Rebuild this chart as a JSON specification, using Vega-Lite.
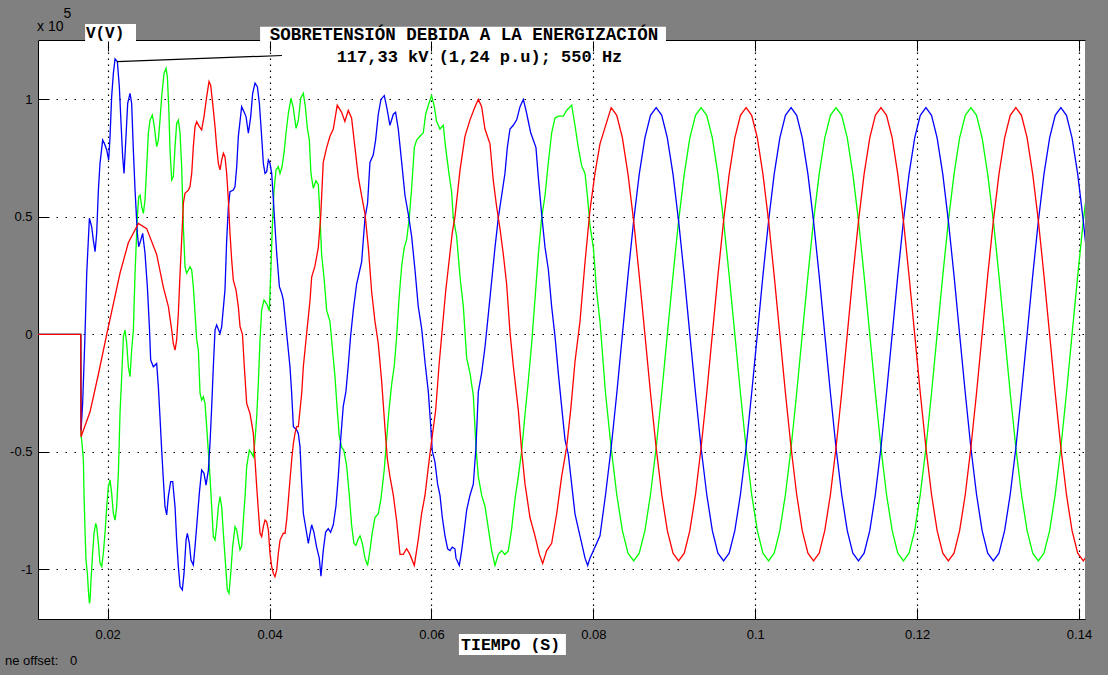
{
"$schema": "https://vega.github.io/schema/vega-lite/v6.json",
"width": 1047, "height": 579,
"autosize": {"type": "none"},
"padding": {"left": 38, "top": 40, "right": 23, "bottom": 56},
"background": "#808080",
"config": {"view": {"stroke": null, "fill": "#ffffff"}, "font": "Liberation Sans"},
"datasets": {
"red": [
{"t":0.0114,"v":0},{"t":0.01667,"v":0},{"t":0.01671,"v":-0.436},{"t":0.01782,"v":-0.33},{"t":0.01885,"v":-0.17},{"t":0.01988,"v":0},{"t":0.0207,"v":0.13},{"t":0.02152,"v":0.26},{"t":0.02255,"v":0.39},{"t":0.02379,"v":0.472},{"t":0.02482,"v":0.45},{"t":0.02605,"v":0.34},{"t":0.02688,"v":0.2},{"t":0.0275,"v":0.118},{"t":0.02791,"v":0.018},{"t":0.02811,"v":-0.04},{"t":0.02832,"v":-0.067},{"t":0.02852,"v":-0.024},{"t":0.02873,"v":0.089},{"t":0.02894,"v":0.26},{"t":0.02914,"v":0.402},{"t":0.02935,"v":0.558},{"t":0.02955,"v":0.6},{"t":0.02997,"v":0.614},{"t":0.03017,"v":0.629},{"t":0.03038,"v":0.685},{"t":0.03058,"v":0.799},{"t":0.03079,"v":0.884},{"t":0.03099,"v":0.905},{"t":0.03132,"v":0.884},{"t":0.03161,"v":0.87},{"t":0.0319,"v":0.927},{"t":0.03223,"v":1.012},{"t":0.03252,"v":1.076},{"t":0.03272,"v":1.061},{"t":0.03297,"v":0.983},{"t":0.03326,"v":0.884},{"t":0.03346,"v":0.799},{"t":0.03367,"v":0.728},{"t":0.03388,"v":0.7},{"t":0.03408,"v":0.742},{"t":0.03429,"v":0.771},{"t":0.03449,"v":0.756},{"t":0.0347,"v":0.685},{"t":0.03491,"v":0.572},{"t":0.03511,"v":0.43},{"t":0.03532,"v":0.316},{"t":0.03552,"v":0.231},{"t":0.03585,"v":0.189},{"t":0.03614,"v":0.118},{"t":0.03635,"v":0.033},{"t":0.03665,"v":0},{"t":0.03688,"v":-0.138},{"t":0.03717,"v":-0.294},{"t":0.03758,"v":-0.337},{"t":0.03779,"v":-0.379},{"t":0.03799,"v":-0.422},{"t":0.0382,"v":-0.535},{"t":0.03841,"v":-0.649},{"t":0.03861,"v":-0.748},{"t":0.03882,"v":-0.847},{"t":0.03902,"v":-0.861},{"t":0.03923,"v":-0.819},{"t":0.03944,"v":-0.791},{"t":0.03964,"v":-0.798},{"t":0.03985,"v":-0.833},{"t":0.04005,"v":-0.932},{"t":0.04026,"v":-0.989},{"t":0.04047,"v":-1.018},{"t":0.04067,"v":-1.032},{"t":0.04088,"v":-1.004},{"t":0.04108,"v":-0.932},{"t":0.04129,"v":-0.876},{"t":0.0415,"v":-0.861},{"t":0.0417,"v":-0.847},{"t":0.04191,"v":-0.847},{"t":0.04211,"v":-0.791},{"t":0.04232,"v":-0.706},{"t":0.04252,"v":-0.62},{"t":0.04273,"v":-0.535},{"t":0.04294,"v":-0.464},{"t":0.04314,"v":-0.422},{"t":0.04335,"v":-0.393},{"t":0.04355,"v":-0.393},{"t":0.04376,"v":-0.322},{"t":0.04397,"v":-0.251},{"t":0.04417,"v":-0.138},{"t":0.04458,"v":0.004},{"t":0.045,"v":0.146},{"t":0.0452,"v":0.244},{"t":0.04561,"v":0.291},{"t":0.04602,"v":0.37},{"t":0.04631,"v":0.496},{"t":0.04663,"v":0.732},{"t":0.04705,"v":0.795},{"t":0.04746,"v":0.843},{"t":0.04787,"v":0.874},{"t":0.04836,"v":0.976},{"t":0.0489,"v":0.945},{"t":0.0493,"v":0.906},{"t":0.04972,"v":0.953},{"t":0.05013,"v":0.921},{"t":0.05055,"v":0.795},{"t":0.05096,"v":0.67},{"t":0.05137,"v":0.59},{"t":0.05179,"v":0.512},{"t":0.0522,"v":0.37},{"t":0.05261,"v":0.181},{"t":0.05302,"v":0.055},{"t":0.05343,"v":-0.039},{"t":0.05384,"v":-0.197},{"t":0.05426,"v":-0.4},{"t":0.05454,"v":-0.528},{"t":0.05487,"v":-0.606},{"t":0.05529,"v":-0.685},{"t":0.0557,"v":-0.795},{"t":0.05611,"v":-0.937},{"t":0.05652,"v":-0.937},{"t":0.05693,"v":-0.913},{"t":0.05734,"v":-0.937},{"t":0.05788,"v":-0.984},{"t":0.05837,"v":-0.874},{"t":0.05878,"v":-0.764},{"t":0.0592,"v":-0.685},{"t":0.05969,"v":-0.543},{"t":0.0601,"v":-0.433},{"t":0.06052,"v":-0.323},{"t":0.06093,"v":-0.134},{"t":0.06134,"v":0.024},{"t":0.06175,"v":0.181},{"t":0.06216,"v":0.307},{"t":0.06257,"v":0.433},{"t":0.0629,"v":0.5},{"t":0.06353,"v":0.7},{"t":0.06414,"v":0.843},{"t":0.06476,"v":0.913},{"t":0.06538,"v":0.969},{"t":0.06579,"v":1.0},{"t":0.0662,"v":0.969},{"t":0.06661,"v":0.874},{"t":0.06723,"v":0.811},{"t":0.06764,"v":0.654},{"t":0.06805,"v":0.543},{"t":0.06847,"v":0.449},{"t":0.06888,"v":0.339},{"t":0.06929,"v":0.213},{"t":0.0697,"v":0.008},{"t":0.07011,"v":-0.134},{"t":0.07073,"v":-0.323},{"t":0.07114,"v":-0.496},{"t":0.07156,"v":-0.638},{"t":0.07217,"v":-0.78},{"t":0.07279,"v":-0.858},{"t":0.07333,"v":-0.937},{"t":0.07374,"v":-0.976},{"t":0.07423,"v":-0.921},{"t":0.07485,"v":-0.89},{"t":0.07547,"v":-0.764},{"t":0.07608,"v":-0.606},{"t":0.0767,"v":-0.48},{"t":0.0772,"v":-0.323},{"t":0.07773,"v":-0.118},{"t":0.07835,"v":0.055},{"t":0.07897,"v":0.307},{"t":0.07958,"v":0.528},{"t":0.0802,"v":0.685},{"t":0.08082,"v":0.811},
{"t":0.0822,"v":0.965},{"t":0.08289,"v":0.932},{"t":0.08359,"v":0.836},{"t":0.08428,"v":0.682},{"t":0.08498,"v":0.483},{"t":0.08567,"v":0.25},{"t":0.08637,"v":0},{"t":0.08706,"v":-0.25},{"t":0.08776,"v":-0.483},{"t":0.08845,"v":-0.682},{"t":0.08914,"v":-0.836},{"t":0.08984,"v":-0.932},{"t":0.09053,"v":-0.965},{"t":0.09123,"v":-0.932},{"t":0.09192,"v":-0.836},{"t":0.09262,"v":-0.682},{"t":0.09331,"v":-0.483},{"t":0.09401,"v":-0.25},{"t":0.0947,"v":0},{"t":0.09539,"v":0.25},{"t":0.09609,"v":0.483},{"t":0.09678,"v":0.682},{"t":0.09748,"v":0.836},{"t":0.09817,"v":0.932},
{"t":0.09887,"v":0.965},{"t":0.09956,"v":0.932},{"t":0.10026,"v":0.836},{"t":0.10095,"v":0.682},{"t":0.10165,"v":0.483},{"t":0.10234,"v":0.25},{"t":0.10304,"v":0},{"t":0.10373,"v":-0.25},{"t":0.10443,"v":-0.483},{"t":0.10512,"v":-0.682},{"t":0.10581,"v":-0.836},{"t":0.10651,"v":-0.932},{"t":0.1072,"v":-0.965},{"t":0.1079,"v":-0.932},{"t":0.10859,"v":-0.836},{"t":0.10929,"v":-0.682},{"t":0.10998,"v":-0.483},{"t":0.11068,"v":-0.25},{"t":0.11137,"v":0},{"t":0.11206,"v":0.25},{"t":0.11276,"v":0.483},{"t":0.11345,"v":0.682},{"t":0.11415,"v":0.836},{"t":0.11484,"v":0.932},
{"t":0.11553,"v":0.965},{"t":0.11622,"v":0.932},{"t":0.11692,"v":0.836},{"t":0.11761,"v":0.682},{"t":0.11831,"v":0.483},{"t":0.119,"v":0.25},{"t":0.1197,"v":0},{"t":0.12039,"v":-0.25},{"t":0.12109,"v":-0.483},{"t":0.12178,"v":-0.682},{"t":0.12247,"v":-0.836},{"t":0.12317,"v":-0.932},{"t":0.12386,"v":-0.965},{"t":0.12456,"v":-0.932},{"t":0.12525,"v":-0.836},{"t":0.12595,"v":-0.682},{"t":0.12664,"v":-0.483},{"t":0.12734,"v":-0.25},{"t":0.12803,"v":0},{"t":0.12872,"v":0.25},{"t":0.12942,"v":0.483},{"t":0.13011,"v":0.682},{"t":0.13081,"v":0.836},{"t":0.1315,"v":0.932},
{"t":0.1322,"v":0.965},{"t":0.13289,"v":0.932},{"t":0.13359,"v":0.836},{"t":0.13428,"v":0.682},{"t":0.13498,"v":0.483},{"t":0.13567,"v":0.25},{"t":0.13637,"v":0},{"t":0.13706,"v":-0.25},{"t":0.13776,"v":-0.483},{"t":0.13845,"v":-0.682},{"t":0.13914,"v":-0.836},{"t":0.13984,"v":-0.932},{"t":0.14053,"v":-0.965},{"t":0.14123,"v":-0.932}
],
"green": [
{"t":0.0114,"v":0},{"t":0.01667,"v":0},{"t":0.01671,"v":-0.436},{"t":0.01679,"v":-0.45},{"t":0.017,"v":-0.535},{"t":0.01708,"v":-0.691},{"t":0.0172,"v":-0.833},{"t":0.01732,"v":-0.961},{"t":0.01749,"v":-1.018},{"t":0.01761,"v":-1.088},{"t":0.01774,"v":-1.145},{"t":0.01782,"v":-1.131},{"t":0.01794,"v":-1.046},{"t":0.01811,"v":-0.947},{"t":0.01831,"v":-0.847},{"t":0.01852,"v":-0.805},{"t":0.01864,"v":-0.819},{"t":0.01885,"v":-0.89},{"t":0.01905,"v":-0.975},{"t":0.01926,"v":-0.989},{"t":0.01946,"v":-0.932},{"t":0.01967,"v":-0.847},{"t":0.01988,"v":-0.734},{"t":0.02008,"v":-0.649},{"t":0.02029,"v":-0.62},{"t":0.02049,"v":-0.677},{"t":0.0207,"v":-0.762},{"t":0.02091,"v":-0.791},{"t":0.02111,"v":-0.734},{"t":0.02132,"v":-0.592},{"t":0.02152,"v":-0.337},{"t":0.02173,"v":-0.18},{"t":0.02194,"v":-0.01},{"t":0.02214,"v":0.018},{"t":0.02235,"v":-0.038},{"t":0.02255,"v":-0.138},{"t":0.02276,"v":-0.18},{"t":0.02296,"v":-0.067},{"t":0.02317,"v":0.018},{"t":0.02338,"v":0.26},{"t":0.02366,"v":0.501},{"t":0.02383,"v":0.586},{"t":0.024,"v":0.593},{"t":0.0242,"v":0.543},{"t":0.02441,"v":0.515},{"t":0.02461,"v":0.572},{"t":0.02482,"v":0.714},{"t":0.02502,"v":0.856},{"t":0.02523,"v":0.912},{"t":0.02552,"v":0.934},{"t":0.02576,"v":0.884},{"t":0.02605,"v":0.799},{"t":0.02626,"v":0.827},{"t":0.02646,"v":0.912},{"t":0.02667,"v":1.012},{"t":0.02696,"v":1.111},{"t":0.02721,"v":1.132},{"t":0.02737,"v":1.097},{"t":0.02754,"v":0.969},{"t":0.0277,"v":0.785},{"t":0.02791,"v":0.657},{"t":0.02811,"v":0.671},{"t":0.02832,"v":0.799},{"t":0.02852,"v":0.898},{"t":0.02873,"v":0.912},{"t":0.02894,"v":0.856},{"t":0.02914,"v":0.714},{"t":0.02935,"v":0.458},{"t":0.02955,"v":0.288},{"t":0.02976,"v":0.26},{"t":0.02997,"v":0.274},{"t":0.03017,"v":0.288},{"t":0.03038,"v":0.274},{"t":0.03058,"v":0.203},{"t":0.03079,"v":0.089},{"t":0.03099,"v":-0.02},{"t":0.0312,"v":-0.067},{"t":0.03141,"v":-0.251},{"t":0.03161,"v":-0.28},{"t":0.03182,"v":-0.266},{"t":0.03202,"v":-0.294},{"t":0.03223,"v":-0.393},{"t":0.03264,"v":-0.606},{"t":0.03305,"v":-0.861},{"t":0.03326,"v":-0.876},{"t":0.03346,"v":-0.819},{"t":0.03367,"v":-0.734},{"t":0.03388,"v":-0.691},{"t":0.03408,"v":-0.734},{"t":0.03429,"v":-0.847},{"t":0.03458,"v":-0.989},{"t":0.03478,"v":-1.088},{"t":0.03499,"v":-1.103},{"t":0.0352,"v":-1.018},{"t":0.03544,"v":-0.904},{"t":0.03573,"v":-0.819},{"t":0.03594,"v":-0.833},{"t":0.03614,"v":-0.876},{"t":0.03635,"v":-0.918},{"t":0.03655,"v":-0.904},{"t":0.03676,"v":-0.791},{"t":0.03697,"v":-0.691},{"t":0.03717,"v":-0.563},{"t":0.0375,"v":-0.493},{"t":0.03779,"v":-0.507},{"t":0.03799,"v":-0.521},{"t":0.0382,"v":-0.45},{"t":0.03841,"v":-0.351},{"t":0.03861,"v":-0.209},{"t":0.03882,"v":-0.024},{"t":0.03902,"v":0.103},{"t":0.03931,"v":0.146},{"t":0.03964,"v":0.13},{"t":0.03997,"v":0.1},{"t":0.04014,"v":0.26},{"t":0.04034,"v":0.458},{"t":0.04055,"v":0.614},{"t":0.0408,"v":0.7},{"t":0.04108,"v":0.714},{"t":0.04129,"v":0.685},{"t":0.04154,"v":0.714},{"t":0.04178,"v":0.771},{"t":0.04203,"v":0.856},{"t":0.04232,"v":0.941},{"t":0.04265,"v":1.005},{"t":0.04294,"v":0.962},{"t":0.04327,"v":0.877},{"t":0.04356,"v":0.912},{"t":0.04384,"v":1.005},{"t":0.04417,"v":1.026},{"t":0.04442,"v":0.969},{"t":0.04467,"v":0.877},{"t":0.04491,"v":0.827},{"t":0.04511,"v":0.685},{"t":0.0454,"v":0.622},{"t":0.04573,"v":0.654},{"t":0.04602,"v":0.638},{"t":0.04622,"v":0.512},{"t":0.04643,"v":0.339},{"t":0.04672,"v":0.244},{"t":0.04705,"v":0.102},{"t":0.04746,"v":0.055},{"t":0.04779,"v":-0.071},{"t":0.04808,"v":-0.181},{"t":0.04836,"v":-0.323},{"t":0.04861,"v":-0.433},{"t":0.0489,"v":-0.48},{"t":0.04919,"v":-0.496},{"t":0.04952,"v":-0.559},{"t":0.04985,"v":-0.685},{"t":0.05013,"v":-0.811},{"t":0.05042,"v":-0.89},{"t":0.05067,"v":-0.898},{"t":0.05096,"v":-0.87},{"t":0.05117,"v":-0.858},{"t":0.05146,"v":-0.89},{"t":0.05179,"v":-0.953},{"t":0.05211,"v":-0.984},{"t":0.0524,"v":-0.921},{"t":0.05269,"v":-0.843},{"t":0.05302,"v":-0.78},{"t":0.05343,"v":-0.764},{"t":0.05376,"v":-0.701},{"t":0.05417,"v":-0.575},{"t":0.05446,"v":-0.449},{"t":0.05475,"v":-0.323},{"t":0.05508,"v":-0.213},{"t":0.05541,"v":-0.134},{"t":0.0557,"v":-0.008},{"t":0.05599,"v":0.15},{"t":0.05632,"v":0.291},{"t":0.05664,"v":0.37},{"t":0.05693,"v":0.402},{"t":0.05726,"v":0.496},{"t":0.05755,"v":0.622},{"t":0.05788,"v":0.795},{"t":0.05817,"v":0.827},{"t":0.05858,"v":0.843},{"t":0.05899,"v":0.858},{"t":0.05928,"v":0.937},{"t":0.05969,"v":0.984},{"t":0.06002,"v":1.016},{"t":0.06035,"v":0.969},{"t":0.06064,"v":0.906},{"t":0.06105,"v":0.874},{"t":0.06146,"v":0.89},{"t":0.06175,"v":0.795},{"t":0.06216,"v":0.685},{"t":0.06249,"v":0.606},{"t":0.0627,"v":0.496},{"t":0.06311,"v":0.417},{"t":0.06353,"v":0.244},{"t":0.06394,"v":0.118},{"t":0.06435,"v":-0.102},{"t":0.06476,"v":-0.165},{"t":0.06517,"v":-0.26},{"t":0.0655,"v":-0.48},{"t":0.06579,"v":-0.606},{"t":0.0662,"v":-0.685},{"t":0.06661,"v":-0.732},{"t":0.06703,"v":-0.827},{"t":0.06744,"v":-0.921},{"t":0.06785,"v":-0.984},{"t":0.06826,"v":-0.937},{"t":0.06867,"v":-0.921},{"t":0.06908,"v":-0.937},{"t":0.0695,"v":-0.921},{"t":0.06991,"v":-0.827},{"t":0.07032,"v":-0.701},{"t":0.07073,"v":-0.606},{"t":0.07114,"v":-0.496},{"t":0.07156,"v":-0.339},{"t":0.07197,"v":-0.197},{"t":0.07238,"v":-0.039},{"t":0.07279,"v":0.15},{"t":0.0732,"v":0.339},{"t":0.07361,"v":0.496},{"t":0.07403,"v":0.591},{"t":0.07444,"v":0.732},{"t":0.07485,"v":0.858},{"t":0.07526,"v":0.921},{"t":0.07567,"v":0.929},{"t":0.07629,"v":0.929},{"t":0.0767,"v":0.953},{"t":0.07732,"v":0.976},{"t":0.07773,"v":0.89},{"t":0.07814,"v":0.795},{"t":0.07856,"v":0.717},{"t":0.07897,"v":0.685},{"t":0.07926,"v":0.591},{"t":0.07958,"v":0.465},{"t":0.08,"v":0.37},{"t":0.08041,"v":0.181},{"t":0.08082,"v":0.055},
{"t":0.0815,"v":-0.25},{"t":0.0822,"v":-0.483},{"t":0.08289,"v":-0.682},{"t":0.08359,"v":-0.836},{"t":0.08428,"v":-0.932},{"t":0.08498,"v":-0.965},{"t":0.08567,"v":-0.932},{"t":0.08637,"v":-0.836},{"t":0.08706,"v":-0.682},{"t":0.08776,"v":-0.483},{"t":0.08845,"v":-0.25},{"t":0.08914,"v":0},{"t":0.08984,"v":0.25},{"t":0.09053,"v":0.483},{"t":0.09123,"v":0.682},{"t":0.09192,"v":0.836},{"t":0.09262,"v":0.932},
{"t":0.09331,"v":0.965},{"t":0.09401,"v":0.932},{"t":0.0947,"v":0.836},{"t":0.09539,"v":0.682},{"t":0.09609,"v":0.483},{"t":0.09678,"v":0.25},{"t":0.09748,"v":0},{"t":0.09817,"v":-0.25},{"t":0.09887,"v":-0.483},{"t":0.09956,"v":-0.682},{"t":0.10026,"v":-0.836},{"t":0.10095,"v":-0.932},{"t":0.10165,"v":-0.965},{"t":0.10234,"v":-0.932},{"t":0.10304,"v":-0.836},{"t":0.10373,"v":-0.682},{"t":0.10443,"v":-0.483},{"t":0.10512,"v":-0.25},{"t":0.10581,"v":0},{"t":0.10651,"v":0.25},{"t":0.1072,"v":0.483},{"t":0.1079,"v":0.682},{"t":0.10859,"v":0.836},{"t":0.10929,"v":0.932},
{"t":0.10998,"v":0.965},{"t":0.11068,"v":0.932},{"t":0.11137,"v":0.836},{"t":0.11206,"v":0.682},{"t":0.11276,"v":0.483},{"t":0.11345,"v":0.25},{"t":0.11415,"v":0},{"t":0.11484,"v":-0.25},{"t":0.11553,"v":-0.483},{"t":0.11622,"v":-0.682},{"t":0.11692,"v":-0.836},{"t":0.11761,"v":-0.932},{"t":0.11831,"v":-0.965},{"t":0.119,"v":-0.932},{"t":0.1197,"v":-0.836},{"t":0.12039,"v":-0.682},{"t":0.12109,"v":-0.483},{"t":0.12178,"v":-0.25},{"t":0.12247,"v":0},{"t":0.12317,"v":0.25},{"t":0.12386,"v":0.483},{"t":0.12456,"v":0.682},{"t":0.12525,"v":0.836},{"t":0.12595,"v":0.932},
{"t":0.12664,"v":0.965},{"t":0.12734,"v":0.932},{"t":0.12803,"v":0.836},{"t":0.12872,"v":0.682},{"t":0.12942,"v":0.483},{"t":0.13011,"v":0.25},{"t":0.13081,"v":0},{"t":0.1315,"v":-0.25},{"t":0.1322,"v":-0.483},{"t":0.13289,"v":-0.682},{"t":0.13359,"v":-0.836},{"t":0.13428,"v":-0.932},{"t":0.13498,"v":-0.965},{"t":0.13567,"v":-0.932},{"t":0.13637,"v":-0.836},{"t":0.13706,"v":-0.682},{"t":0.13776,"v":-0.483},{"t":0.13845,"v":-0.25},{"t":0.13914,"v":0},{"t":0.13984,"v":0.25},{"t":0.14053,"v":0.483},{"t":0.14123,"v":0.682}
],
"blue": [
{"t":0.0114,"v":0},{"t":0.01667,"v":0},{"t":0.01671,"v":-0.41},{"t":0.01691,"v":-0.29},{"t":0.0172,"v":0},{"t":0.01741,"v":0.26},{"t":0.01774,"v":0.494},{"t":0.01802,"v":0.458},{"t":0.01823,"v":0.4},{"t":0.01844,"v":0.352},{"t":0.01864,"v":0.43},{"t":0.01885,"v":0.614},{"t":0.01905,"v":0.728},{"t":0.01938,"v":0.827},{"t":0.01959,"v":0.813},{"t":0.01988,"v":0.785},{"t":0.02012,"v":0.742},{"t":0.02029,"v":0.842},{"t":0.02049,"v":1.012},{"t":0.0207,"v":1.111},{"t":0.02091,"v":1.173},{"t":0.02119,"v":1.161},{"t":0.02144,"v":1.054},{"t":0.02165,"v":0.898},{"t":0.02185,"v":0.756},{"t":0.02202,"v":0.685},{"t":0.02226,"v":0.842},{"t":0.02247,"v":0.983},{"t":0.02276,"v":1.026},{"t":0.02296,"v":0.983},{"t":0.02317,"v":0.785},{"t":0.02338,"v":0.614},{"t":0.02366,"v":0.43},{"t":0.02383,"v":0.373},{"t":0.02408,"v":0.4},{"t":0.02432,"v":0.43},{"t":0.02461,"v":0.345},{"t":0.0249,"v":0.203},{"t":0.02515,"v":0.033},{"t":0.02531,"v":-0.109},{"t":0.02564,"v":-0.138},{"t":0.02605,"v":-0.124},{"t":0.02626,"v":-0.223},{"t":0.02646,"v":-0.351},{"t":0.02667,"v":-0.493},{"t":0.02688,"v":-0.62},{"t":0.02708,"v":-0.734},{"t":0.02729,"v":-0.769},{"t":0.02749,"v":-0.691},{"t":0.02778,"v":-0.627},{"t":0.02803,"v":-0.627},{"t":0.02832,"v":-0.734},{"t":0.02852,"v":-0.876},{"t":0.02873,"v":-0.989},{"t":0.02894,"v":-1.074},{"t":0.02922,"v":-1.088},{"t":0.02943,"v":-1.018},{"t":0.02968,"v":-0.876},{"t":0.02984,"v":-0.847},{"t":0.03009,"v":-0.89},{"t":0.03029,"v":-0.961},{"t":0.03058,"v":-0.982},{"t":0.03079,"v":-0.904},{"t":0.03099,"v":-0.819},{"t":0.03132,"v":-0.677},{"t":0.03161,"v":-0.578},{"t":0.0319,"v":-0.592},{"t":0.03215,"v":-0.642},{"t":0.03244,"v":-0.578},{"t":0.03264,"v":-0.464},{"t":0.03285,"v":-0.308},{"t":0.03305,"v":-0.138},{"t":0.03326,"v":0.018},{"t":0.03346,"v":0.04},{"t":0.03388,"v":0.004},{"t":0.03408,"v":0.032},{"t":0.03449,"v":0.189},{"t":0.0347,"v":0.4},{"t":0.03491,"v":0.543},{"t":0.03511,"v":0.607},{"t":0.03552,"v":0.614},{"t":0.03573,"v":0.629},{"t":0.03594,"v":0.714},{"t":0.03614,"v":0.842},{"t":0.03655,"v":0.969},{"t":0.03684,"v":0.948},{"t":0.03709,"v":0.927},{"t":0.03738,"v":0.856},{"t":0.03767,"v":0.927},{"t":0.03791,"v":1.026},{"t":0.0382,"v":1.069},{"t":0.03849,"v":1.054},{"t":0.03874,"v":0.983},{"t":0.03902,"v":0.842},{"t":0.03923,"v":0.728},{"t":0.03944,"v":0.685},{"t":0.03964,"v":0.692},{"t":0.03985,"v":0.742},{"t":0.04005,"v":0.728},{"t":0.04026,"v":0.685},{"t":0.04047,"v":0.572},{"t":0.04067,"v":0.458},{"t":0.04088,"v":0.345},{"t":0.04121,"v":0.203},{"t":0.0415,"v":0.175},{"t":0.0417,"v":0.146},{"t":0.04191,"v":0.075},{"t":0.04211,"v":0.004},{"t":0.04252,"v":-0.138},{"t":0.04273,"v":-0.251},{"t":0.04294,"v":-0.393},{"t":0.04335,"v":-0.407},{"t":0.04355,"v":-0.422},{"t":0.04376,"v":-0.478},{"t":0.04397,"v":-0.634},{"t":0.04417,"v":-0.762},{"t":0.04458,"v":-0.847},{"t":0.04479,"v":-0.89},{"t":0.045,"v":-0.847},{"t":0.0452,"v":-0.811},{"t":0.04548,"v":-0.843},{"t":0.04581,"v":-0.906},{"t":0.04614,"v":-0.953},{"t":0.04635,"v":-1.03},{"t":0.04663,"v":-0.921},{"t":0.04692,"v":-0.843},{"t":0.04725,"v":-0.827},{"t":0.04754,"v":-0.843},{"t":0.04787,"v":-0.811},{"t":0.0482,"v":-0.732},{"t":0.04849,"v":-0.606},{"t":0.04878,"v":-0.449},{"t":0.0491,"v":-0.307},{"t":0.04943,"v":-0.244},{"t":0.04972,"v":-0.134},{"t":0.05001,"v":-0.008},{"t":0.05034,"v":0.102},{"t":0.05075,"v":0.213},{"t":0.05116,"v":0.276},{"t":0.05137,"v":0.307},{"t":0.05179,"v":0.496},{"t":0.05211,"v":0.559},{"t":0.0524,"v":0.732},{"t":0.05281,"v":0.764},{"t":0.0531,"v":0.827},{"t":0.05343,"v":0.937},{"t":0.05376,"v":1.0},{"t":0.05417,"v":1.016},{"t":0.05446,"v":0.969},{"t":0.05487,"v":0.89},{"t":0.05529,"v":0.937},{"t":0.05557,"v":0.945},{"t":0.0559,"v":0.874},{"t":0.05632,"v":0.732},{"t":0.05673,"v":0.591},{"t":0.05714,"v":0.512},{"t":0.05755,"v":0.417},{"t":0.05796,"v":0.276},{"t":0.05837,"v":0.118},{"t":0.05879,"v":0.024},{"t":0.0592,"v":-0.118},{"t":0.05961,"v":-0.244},{"t":0.0599,"v":-0.386},{"t":0.0601,"v":-0.496},{"t":0.06043,"v":-0.543},{"t":0.06076,"v":-0.638},{"t":0.06105,"v":-0.685},{"t":0.06134,"v":-0.78},{"t":0.06167,"v":-0.858},{"t":0.062,"v":-0.913},{"t":0.06229,"v":-0.921},{"t":0.06257,"v":-0.906},{"t":0.0629,"v":-0.913},{"t":0.06303,"v":-0.953},{"t":0.06344,"v":-0.984},{"t":0.06373,"v":-0.921},{"t":0.06402,"v":-0.843},{"t":0.06435,"v":-0.748},{"t":0.06476,"v":-0.685},{"t":0.06517,"v":-0.638},{"t":0.0655,"v":-0.48},{"t":0.06579,"v":-0.244},{"t":0.0662,"v":-0.165},{"t":0.06661,"v":-0.055},{"t":0.06703,"v":0.087},{"t":0.06744,"v":0.228},{"t":0.06785,"v":0.37},{"t":0.06826,"v":0.496},{"t":0.06867,"v":0.591},{"t":0.06908,"v":0.685},{"t":0.06937,"v":0.795},{"t":0.0697,"v":0.874},{"t":0.07011,"v":0.89},{"t":0.07053,"v":0.913},{"t":0.07094,"v":0.969},{"t":0.07135,"v":1.0},{"t":0.07168,"v":0.953},{"t":0.07197,"v":0.906},{"t":0.07226,"v":0.858},{"t":0.07258,"v":0.827},{"t":0.07291,"v":0.795},{"t":0.0732,"v":0.669},{"t":0.07361,"v":0.512},{"t":0.07403,"v":0.37},{"t":0.07444,"v":0.276},{"t":0.07485,"v":0.118},{"t":0.07526,"v":-0.008},{"t":0.07567,"v":-0.165},{"t":0.07608,"v":-0.307},{"t":0.0765,"v":-0.449},{"t":0.07691,"v":-0.512},{"t":0.07732,"v":-0.638},{"t":0.07773,"v":-0.764},{"t":0.07814,"v":-0.827},{"t":0.07856,"v":-0.89},{"t":0.07897,"v":-0.953},{"t":0.0793,"v":-0.984},{"t":0.07958,"v":-0.953},{"t":0.08,"v":-0.921},{"t":0.08041,"v":-0.89},{"t":0.08082,"v":-0.858},
{"t":0.08151,"v":-0.682},{"t":0.0822,"v":-0.483},{"t":0.0829,"v":-0.25},{"t":0.08359,"v":0},{"t":0.08428,"v":0.25},{"t":0.08498,"v":0.483},{"t":0.08567,"v":0.682},{"t":0.08637,"v":0.836},{"t":0.08706,"v":0.932},
{"t":0.08776,"v":0.965},{"t":0.08845,"v":0.932},{"t":0.08914,"v":0.836},{"t":0.08984,"v":0.682},{"t":0.09053,"v":0.483},{"t":0.09123,"v":0.25},{"t":0.09192,"v":0},{"t":0.09262,"v":-0.25},{"t":0.09331,"v":-0.483},{"t":0.09401,"v":-0.682},{"t":0.0947,"v":-0.836},{"t":0.09539,"v":-0.932},{"t":0.09609,"v":-0.965},{"t":0.09678,"v":-0.932},{"t":0.09748,"v":-0.836},{"t":0.09817,"v":-0.682},{"t":0.09887,"v":-0.483},{"t":0.09956,"v":-0.25},{"t":0.10026,"v":0},{"t":0.10095,"v":0.25},{"t":0.10165,"v":0.483},{"t":0.10234,"v":0.682},{"t":0.10304,"v":0.836},{"t":0.10373,"v":0.932},
{"t":0.10443,"v":0.965},{"t":0.10512,"v":0.932},{"t":0.10581,"v":0.836},{"t":0.10651,"v":0.682},{"t":0.1072,"v":0.483},{"t":0.1079,"v":0.25},{"t":0.10859,"v":0},{"t":0.10929,"v":-0.25},{"t":0.10998,"v":-0.483},{"t":0.11068,"v":-0.682},{"t":0.11137,"v":-0.836},{"t":0.11206,"v":-0.932},{"t":0.11276,"v":-0.965},{"t":0.11345,"v":-0.932},{"t":0.11415,"v":-0.836},{"t":0.11484,"v":-0.682},{"t":0.11553,"v":-0.483},{"t":0.11622,"v":-0.25},{"t":0.11692,"v":0},{"t":0.11761,"v":0.25},{"t":0.11831,"v":0.483},{"t":0.119,"v":0.682},{"t":0.1197,"v":0.836},{"t":0.12039,"v":0.932},
{"t":0.12109,"v":0.965},{"t":0.12178,"v":0.932},{"t":0.12247,"v":0.836},{"t":0.12317,"v":0.682},{"t":0.12386,"v":0.483},{"t":0.12456,"v":0.25},{"t":0.12525,"v":0},{"t":0.12595,"v":-0.25},{"t":0.12664,"v":-0.483},{"t":0.12734,"v":-0.682},{"t":0.12803,"v":-0.836},{"t":0.12872,"v":-0.932},{"t":0.12942,"v":-0.965},{"t":0.13011,"v":-0.932},{"t":0.13081,"v":-0.836},{"t":0.1315,"v":-0.682},{"t":0.1322,"v":-0.483},{"t":0.13289,"v":-0.25},{"t":0.13359,"v":0},{"t":0.13428,"v":0.25},{"t":0.13498,"v":0.483},{"t":0.13567,"v":0.682},{"t":0.13637,"v":0.836},{"t":0.13706,"v":0.932},
{"t":0.13776,"v":0.965},{"t":0.13845,"v":0.932},{"t":0.13914,"v":0.836},{"t":0.13984,"v":0.682},{"t":0.14053,"v":0.483},{"t":0.14123,"v":0.25}
],
"one": [{"k": 1}]
},
"layer": [
{"data": {"name": "green"},
 "mark": {"type": "line", "color": "#00ff00", "strokeWidth": 1.3, "clip": true},
 "encoding": {
  "x": {"field": "t", "type": "quantitative", "scale": {"domain": [0.01139, 0.14074], "nice": false, "zero": false},
        "axis": {"orient": "bottom", "title": null, "values": [0.02,0.04,0.06,0.08,0.1,0.12,0.14], "labelExpr": "'' + datum.value",
                 "grid": true, "gridColor": "#000000", "gridDash": [1.5,4.5], "gridWidth": 1.2, "gridOpacity": 1,
                 "domain": true, "domainColor": "#000000", "domainWidth": 1,
                 "ticks": true, "tickSize": -11, "tickColor": "#000000", "tickWidth": 1,
                 "labelFont": "Liberation Sans", "labelFontSize": 13, "labelColor": "#000000", "labelPadding": 20, "labelFlush": false, "labelOverlap": false}},
  "y": {"field": "v", "type": "quantitative", "scale": {"domain": [-1.212, 1.253], "nice": false, "zero": false},
        "axis": {"orient": "left", "title": null, "values": [-1,-0.5,0,0.5,1], "labelExpr": "'' + datum.value",
                 "grid": true, "gridColor": "#000000", "gridDash": [1.5,7.5], "gridWidth": 1.2, "gridOpacity": 1,
                 "domain": true, "domainColor": "#000000", "domainWidth": 1,
                 "ticks": true, "tickSize": -11, "tickColor": "#000000", "tickWidth": 1,
                 "labelFont": "Liberation Sans", "labelFontSize": 13, "labelColor": "#000000", "labelPadding": 17, "labelFlush": false, "labelOverlap": false}}
 }},
{"data": {"name": "blue"},
 "mark": {"type": "line", "color": "#0000ff", "strokeWidth": 1.3, "clip": true},
 "encoding": {
  "x": {"field": "t", "type": "quantitative",
        "axis": {"orient": "top", "title": null, "values": [0.02,0.04,0.06,0.08,0.1,0.12,0.14], "labels": false, "grid": false,
                 "domain": true, "domainColor": "#000000", "domainWidth": 1, "ticks": true, "tickSize": -11, "tickColor": "#000000"}},
  "y": {"field": "v", "type": "quantitative", "axis": null}
 }},
{"data": {"name": "red"},
 "mark": {"type": "line", "color": "#ff0000", "strokeWidth": 1.3, "clip": true},
 "encoding": {
  "x": {"field": "t", "type": "quantitative", "axis": null},
  "y": {"field": "v", "type": "quantitative", "axis": null}
 }},
{"data": {"name": "one"}, "mark": {"type": "rect", "fill": "#ffffff"},
 "encoding": {"x": {"datum": 0.017208, "type": "quantitative", "axis": null}, "x2": {"datum": 0.023496},
              "y": {"datum": 1.321, "type": "quantitative", "axis": null}, "y2": {"datum": 1.2465}}},
{"data": {"name": "one"}, "mark": {"type": "rect", "fill": "#ffffff"},
 "encoding": {"x": {"datum": 0.038826, "type": "quantitative", "axis": null}, "x2": {"datum": 0.08897},
              "y": {"datum": 1.3095, "type": "quantitative", "axis": null}, "y2": {"datum": 1.2465}}},
{"data": {"name": "one"}, "mark": {"type": "rect", "fill": "#ffffff"},
 "encoding": {"x": {"datum": 0.063392, "type": "quantitative", "axis": null}, "x2": {"datum": 0.07661},
              "y": {"datum": -1.2759, "type": "quantitative", "axis": null}, "y2": {"datum": -1.3653}}},
{"data": {"name": "one"}, "mark": {"type": "rule", "color": "#000000", "strokeWidth": 1.2},
 "encoding": {"x": {"datum": 0.02115, "type": "quantitative", "axis": null}, "x2": {"datum": 0.04153},
              "y": {"datum": 1.161, "type": "quantitative", "axis": null}, "y2": {"datum": 1.187}}},
{"data": {"name": "one"}, "mark": {"type": "text", "text": "V(V)", "font": "Liberation Mono", "fontWeight": "bold", "fontSize": 16, "align": "left", "baseline": "middle", "color": "#000000"},
 "encoding": {"x": {"datum": 0.01731, "type": "quantitative", "axis": null}, "y": {"datum": 1.2827, "type": "quantitative", "axis": null}}},
{"data": {"name": "one"}, "mark": {"type": "text", "text": "SOBRETENSIÓN DEBIDA A LA ENERGIZACIÓN", "font": "Liberation Mono", "fontWeight": "bold", "fontSize": 17.5, "align": "center", "baseline": "middle", "color": "#000000"},
 "encoding": {"x": {"datum": 0.06401, "type": "quantitative", "axis": null}, "y": {"datum": 1.274, "type": "quantitative", "axis": null}}},
{"data": {"name": "one"}, "mark": {"type": "text", "text": "117,33 kV (1,24 p.u); 550 Hz", "font": "Liberation Mono", "fontWeight": "bold", "fontSize": 17, "align": "center", "baseline": "middle", "color": "#000000"},
 "encoding": {"x": {"datum": 0.06593, "type": "quantitative", "axis": null}, "y": {"datum": 1.1805, "type": "quantitative", "axis": null}}},
{"data": {"name": "one"}, "mark": {"type": "text", "text": "TIEMPO (S)", "font": "Liberation Mono", "fontWeight": "bold", "fontSize": 16.5, "align": "left", "baseline": "middle", "color": "#000000"},
 "encoding": {"x": {"datum": 0.06366, "type": "quantitative", "axis": null}, "y": {"datum": -1.3235, "type": "quantitative", "axis": null}}},
{"data": {"name": "one"}, "mark": {"type": "text", "text": "x 10", "font": "Liberation Sans", "fontSize": 14, "align": "left", "baseline": "middle", "color": "#000000"},
 "encoding": {"x": {"datum": 0.011272, "type": "quantitative", "axis": null}, "y": {"datum": 1.3083, "type": "quantitative", "axis": null}}},
{"data": {"name": "one"}, "mark": {"type": "text", "text": "5", "font": "Liberation Sans", "fontSize": 14, "align": "left", "baseline": "middle", "color": "#000000"},
 "encoding": {"x": {"datum": 0.01454, "type": "quantitative", "axis": null}, "y": {"datum": 1.3636, "type": "quantitative", "axis": null}}},
{"data": {"name": "one"}, "mark": {"type": "text", "text": "ne offset:", "font": "Liberation Sans", "fontSize": 13, "align": "left", "baseline": "middle", "color": "#000000"},
 "encoding": {"x": {"datum": 0.007313, "type": "quantitative", "axis": null}, "y": {"datum": -1.3908, "type": "quantitative", "axis": null}}},
{"data": {"name": "one"}, "mark": {"type": "text", "text": "0", "font": "Liberation Sans", "fontSize": 13, "align": "left", "baseline": "middle", "color": "#000000"},
 "encoding": {"x": {"datum": 0.015343, "type": "quantitative", "axis": null}, "y": {"datum": -1.3908, "type": "quantitative", "axis": null}}}
],
"resolve": {"axis": {"x": "independent", "y": "independent"}}
}
